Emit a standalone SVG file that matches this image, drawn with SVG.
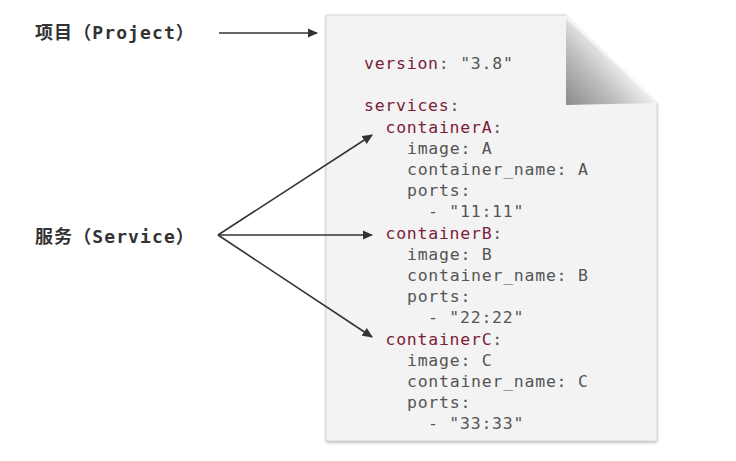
<svg xmlns="http://www.w3.org/2000/svg" width="736" height="461" viewBox="0 0 736 461">
<defs>
<style>
.lbl{font-family:"DejaVu Sans Mono","Noto Sans CJK SC",monospace;font-weight:bold;font-size:18px;letter-spacing:1.1px;fill:#333}
.code{font-family:"DejaVu Sans Mono","Liberation Mono",monospace;font-size:16.5px;letter-spacing:0.75px;fill:#555}
.k{fill:#7b2038}
.conn{stroke:#333;stroke-width:1.6;fill:none;marker-end:url(#ah)}
</style>
<marker id="ah" viewBox="0 0 10 10" refX="9" refY="5" markerWidth="6.5" markerHeight="6.5" markerUnits="strokeWidth" orient="auto">
<path d="M0,0.5 L10,5 L0,9.5 Z" fill="#333"/>
</marker>
<linearGradient id="fold" x1="566" y1="105" x2="618" y2="58" gradientUnits="userSpaceOnUse">
<stop offset="0" stop-color="#8a8a8a"/>
<stop offset="0.6" stop-color="#c2c2c2"/>
<stop offset="1" stop-color="#f2f2f2"/>
</linearGradient>
<filter id="sh" x="-5%" y="-5%" width="110%" height="110%">
<feDropShadow dx="0" dy="1.5" stdDeviation="1.5" flood-color="#000" flood-opacity="0.3"/>
</filter>
</defs>
<g id="document">
<path d="M326,15 L566,15 L657,103 L657,441 L326,441 Z" fill="#f3f3f3" filter="url(#sh)"/>
<path d="M566,15 L326,15 L326,441 L657,441 L657,103" fill="none" stroke="#d6d6d6" stroke-width="1"/>
<path d="M566,19 L566,105 L656,103 Z" fill="url(#fold)"/>
<g class="code">
<text x="364" y="69"><tspan class="k">version</tspan>: "3.8"</text>
<text x="364" y="111.4"><tspan class="k">services</tspan>:</text>
<text x="385.5" y="132.6"><tspan class="k">containerA</tspan>:</text>
<text x="407" y="153.8">image: A</text>
<text x="407" y="175">container_name: A</text>
<text x="407" y="196.2">ports:</text>
<text x="428" y="217.4">- "11:11"</text>
<text x="385.5" y="238.6"><tspan class="k">containerB</tspan>:</text>
<text x="407" y="259.8">image: B</text>
<text x="407" y="281">container_name: B</text>
<text x="407" y="302.2">ports:</text>
<text x="428" y="323.4">- "22:22"</text>
<text x="385.5" y="344.6"><tspan class="k">containerC</tspan>:</text>
<text x="407" y="365.8">image: C</text>
<text x="407" y="387">container_name: C</text>
<text x="407" y="408.2">ports:</text>
<text x="428" y="429.4">- "33:33"</text>
</g>
</g>
<g id="project">
<text class="lbl" x="35" y="39">项目（Project）</text>
</g>
<g id="service">
<text class="lbl" x="35" y="243">服务（Service）</text>
</g>
<g id="connectors">
<line class="conn" x1="219" y1="33" x2="317" y2="33"/>
<line class="conn" x1="218" y1="235" x2="372" y2="135"/>
<line class="conn" x1="218" y1="235" x2="372" y2="235"/>
<line class="conn" x1="218" y1="235" x2="372" y2="337"/>
</g>
</svg>
